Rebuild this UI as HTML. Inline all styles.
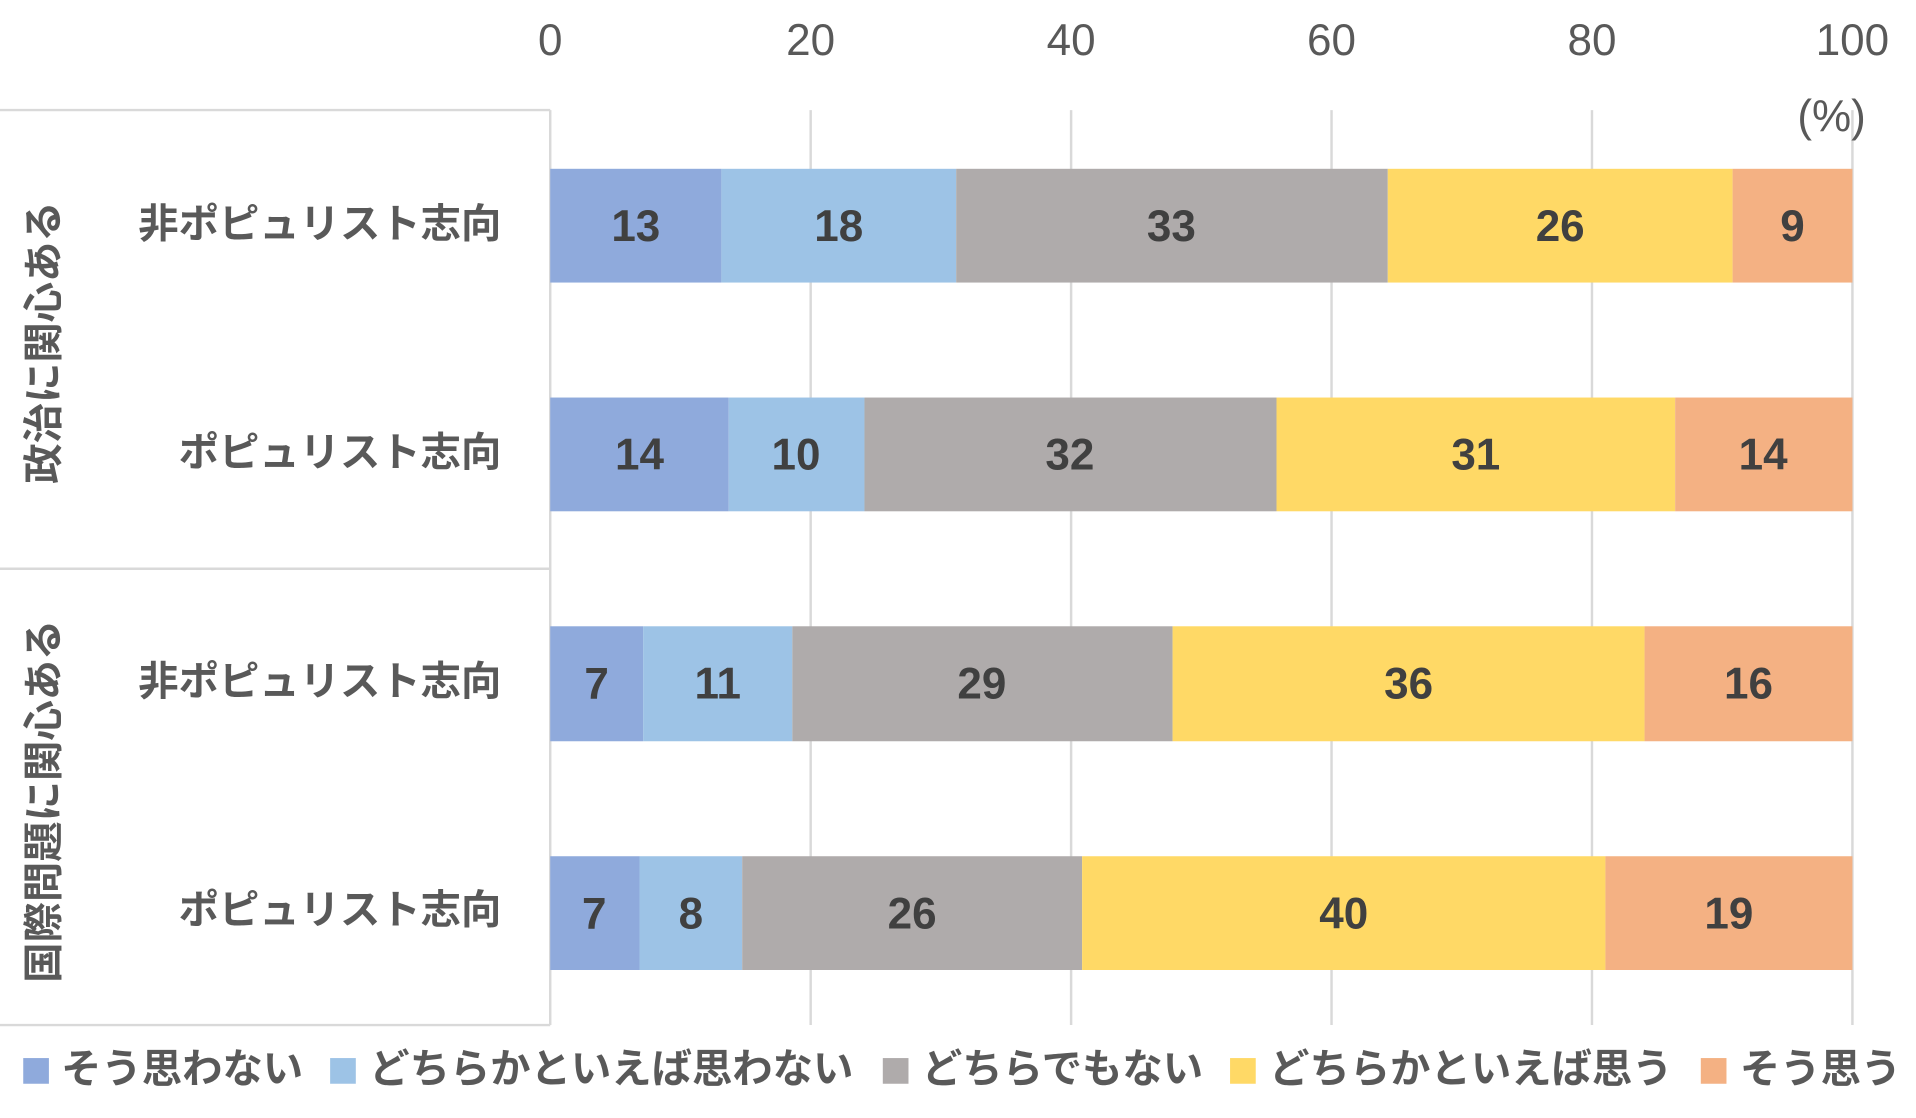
<!DOCTYPE html>
<html><head><meta charset="utf-8"><style>
html,body{margin:0;padding:0;background:#fff;}
svg{display:block;}
text{font-family:"Liberation Sans","Noto Sans CJK JP",sans-serif;}
</style></head><body>
<svg width="1916" height="1118" viewBox="0 0 1567 914" preserveAspectRatio="none" xmlns="http://www.w3.org/2000/svg">
<g stroke="#d9d9d9" stroke-width="2">
<line x1="450" y1="90" x2="450" y2="838"/>
<line x1="663" y1="90" x2="663" y2="838"/>
<line x1="876" y1="90" x2="876" y2="838"/>
<line x1="1089" y1="90" x2="1089" y2="838"/>
<line x1="1302" y1="90" x2="1302" y2="838"/>
<line x1="1515" y1="90" x2="1515" y2="838"/>
<line x1="0" y1="90" x2="450" y2="90"/>
<line x1="0" y1="465" x2="450" y2="465"/>
<line x1="0" y1="838" x2="450" y2="838"/>
</g>
<g font-size="36" fill="#595959" text-anchor="middle">
<text x="450" y="45">0</text><text x="663" y="45">20</text><text x="876" y="45">40</text>
<text x="1089" y="45">60</text><text x="1302" y="45">80</text><text x="1515" y="45">100</text>
<text x="1498" y="107">(%)</text>
</g>
<g>
<rect x="450" y="138" width="140" height="93" fill="#8faadc"/><rect x="590" y="138" width="192" height="93" fill="#9dc3e6"/><rect x="782" y="138" width="353" height="93" fill="#afabab"/><rect x="1135" y="138" width="282" height="93" fill="#ffd966"/><rect x="1417" y="138" width="98" height="93" fill="#f4b183"/>
<rect x="450" y="325" width="146" height="93" fill="#8faadc"/><rect x="596" y="325" width="111" height="93" fill="#9dc3e6"/><rect x="707" y="325" width="337" height="93" fill="#afabab"/><rect x="1044" y="325" width="326" height="93" fill="#ffd966"/><rect x="1370" y="325" width="145" height="93" fill="#f4b183"/>
<rect x="450" y="512" width="76" height="94" fill="#8faadc"/><rect x="526" y="512" width="122" height="94" fill="#9dc3e6"/><rect x="648" y="512" width="311" height="94" fill="#afabab"/><rect x="959" y="512" width="386" height="94" fill="#ffd966"/><rect x="1345" y="512" width="170" height="94" fill="#f4b183"/>
<rect x="450" y="700" width="73" height="93" fill="#8faadc"/><rect x="523" y="700" width="84" height="93" fill="#9dc3e6"/><rect x="607" y="700" width="278" height="93" fill="#afabab"/><rect x="885" y="700" width="428" height="93" fill="#ffd966"/><rect x="1313" y="700" width="202" height="93" fill="#f4b183"/>
</g>
<g font-size="36" font-weight="bold" fill="#404040" text-anchor="middle">
<text x="520" y="197">13</text><text x="686" y="197">18</text><text x="958" y="197">33</text><text x="1276" y="197">26</text><text x="1466" y="197">9</text>
<text x="523" y="384">14</text><text x="651" y="384">10</text><text x="875" y="384">32</text><text x="1207" y="384">31</text><text x="1442" y="384">14</text>
<text x="488" y="571">7</text><text x="587" y="571">11</text><text x="803" y="571">29</text><text x="1152" y="571">36</text><text x="1430" y="571">16</text>
<text x="486" y="759">7</text><text x="565" y="759">8</text><text x="746" y="759">26</text><text x="1099" y="759">40</text><text x="1414" y="759">19</text>
</g>
<g font-size="33" font-weight="bold" fill="#595959" text-anchor="end">
<text x="410" y="194">非ポピュリスト志向</text>
<text x="410" y="381">ポピュリスト志向</text>
<text x="410" y="568">非ポピュリスト志向</text>
<text x="410" y="755">ポピュリスト志向</text>
</g>
<g font-size="33" font-weight="bold" fill="#595959" text-anchor="middle">
<text transform="translate(47,280) rotate(-90)">政治に関心ある</text>
<text transform="translate(47,655) rotate(-90)">国際問題に関心ある</text>
</g>
<g font-size="33" font-weight="bold" fill="#595959">
<rect x="19" y="865" width="21" height="21" fill="#8faadc"/><text x="50" y="885">そう思わない</text>
<rect x="270" y="865" width="21" height="21" fill="#9dc3e6"/><text x="302" y="885">どちらかといえば思わない</text>
<rect x="722" y="865" width="21" height="21" fill="#afabab"/><text x="754" y="885">どちらでもない</text>
<rect x="1006" y="865" width="21" height="21" fill="#ffd966"/><text x="1038" y="885">どちらかといえば思う</text>
<rect x="1391" y="865" width="21" height="21" fill="#f4b183"/><text x="1423" y="885">そう思う</text>
</g>
</svg>
</body></html>
